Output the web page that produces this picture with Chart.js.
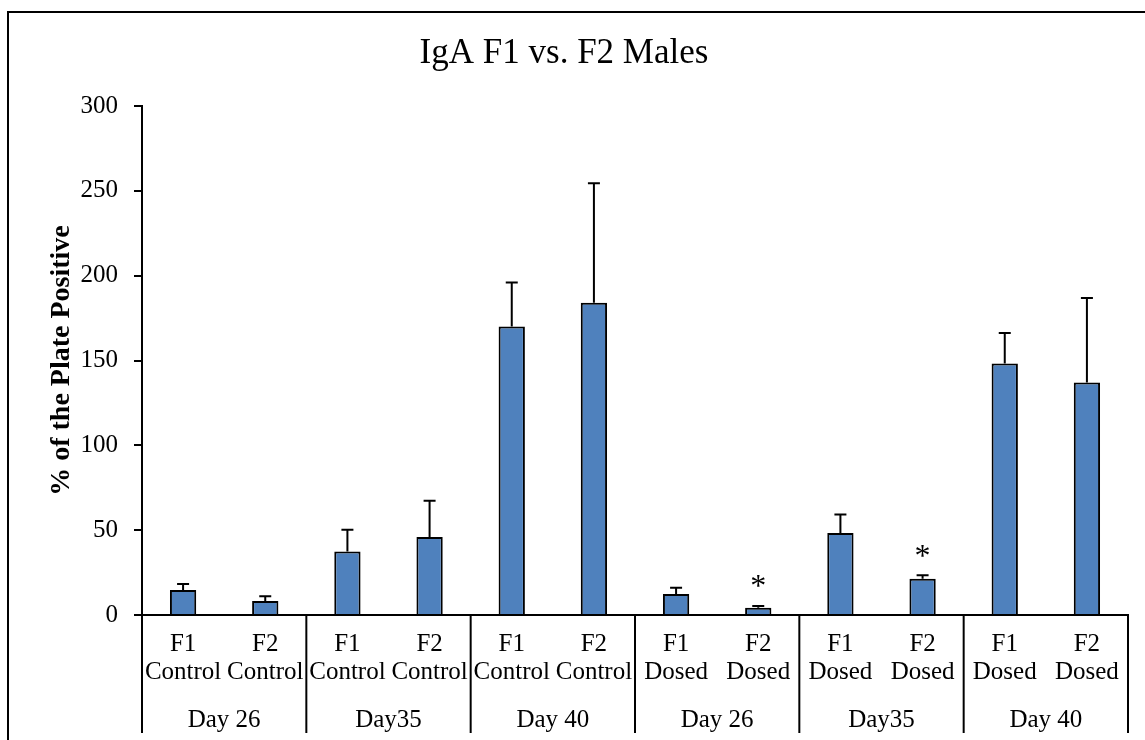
<!DOCTYPE html>
<html>
<head>
<meta charset="utf-8">
<script src="https://cdn.jsdelivr.net/npm/chart.js@4.4.1/dist/chart.umd.min.js"></script>
<style>
  body { margin: 0; background: #fff; }
  canvas { display: block; }
</style>
</head>
<body>
<canvas id="myChart" width="1145" height="740"></canvas>
<script>
const categories = [
  ['F1', 'Control'], ['F2', 'Control'],
  ['F1', 'Control'], ['F2', 'Control'],
  ['F1', 'Control'], ['F2', 'Control'],
  ['F1', 'Dosed'], ['F2', 'Dosed'],
  ['F1', 'Dosed'], ['F2', 'Dosed'],
  ['F1', 'Dosed'], ['F2', 'Dosed'],
];
const groupLabels = ['Day 26', 'Day35', 'Day 40', 'Day 26', 'Day35', 'Day 40'];
const means = [14.8, 8.3, 37.4, 45.9, 170, 184, 12.4, 4.2, 48.4, 21.4, 148.3, 137];
const errors = [3.5, 2.7, 12.8, 21.4, 26, 70.4, 3.6, 1.1, 10.8, 2, 17.9, 49.9];
const significant = [false, false, false, false, false, false, false, true, false, true, false, false];
const yTicks = [0, 50, 100, 150, 200, 250, 300];

const serif = "'Liberation Serif', 'Times New Roman', serif";

// white page + the outer chart frame (runs off the right/bottom edge)
const framePlugin = {
  id: 'frame',
  beforeDraw(chart) {
    const ctx = chart.ctx;
    ctx.save();
    ctx.fillStyle = '#fff';
    ctx.fillRect(0, 0, chart.width, chart.height);
    ctx.strokeStyle = '#000';
    ctx.lineWidth = 2;
    ctx.strokeRect(8, 12, 1300, 900);
    ctx.restore();
  },
};

// error bars and significance stars
const errorBarPlugin = {
  id: 'errorBars',
  afterDatasetsDraw(chart) {
    const ctx = chart.ctx;
    const y = chart.scales.y;
    const meta = chart.getDatasetMeta(0);
    ctx.save();
    ctx.strokeStyle = '#000';
    ctx.lineWidth = 2;
    meta.data.forEach((bar, i) => {
      const yTop = y.getPixelForValue(means[i] + errors[i]);
      const yBase = y.getPixelForValue(means[i]);
      ctx.beginPath();
      ctx.moveTo(bar.x, yBase);
      ctx.lineTo(bar.x, yTop);
      ctx.moveTo(bar.x - 6, yTop);
      ctx.lineTo(bar.x + 6, yTop);
      ctx.stroke();
      if (significant[i]) {
        ctx.fillStyle = '#000';
        ctx.font = '32px ' + serif;
        ctx.textAlign = 'center';
        ctx.textBaseline = 'middle';
        ctx.fillText('*', bar.x, yTop - 18);
      }
    });
    ctx.restore();
  },
};

// group separators under the x axis and the "Day" labels
const groupPlugin = {
  id: 'groups',
  afterDraw(chart) {
    const ctx = chart.ctx;
    const x = chart.scales.x;
    const top = x.top;
    const bottom = 733;
    ctx.save();
    ctx.strokeStyle = '#000';
    ctx.lineWidth = 2;
    const edges = [x.left];
    for (let g = 1; g < groupLabels.length; g++) {
      edges.push((x.getPixelForValue(2 * g - 1) + x.getPixelForValue(2 * g)) / 2);
    }
    edges.push(x.right);
    edges.forEach((px) => {
      ctx.beginPath();
      ctx.moveTo(px, top);
      ctx.lineTo(px, bottom);
      ctx.stroke();
    });
    ctx.fillStyle = '#000';
    ctx.font = '25px ' + serif;
    ctx.textAlign = 'center';
    ctx.textBaseline = 'middle';
    groupLabels.forEach((label, g) => {
      const cx = (x.getPixelForValue(2 * g) + x.getPixelForValue(2 * g + 1)) / 2;
      ctx.fillText(label, cx, top + 105);
    });
    ctx.restore();
  },
};

const data = {
  labels: categories,
  datasets: [
    {
      label: 'IgA',
      data: means,
      backgroundColor: '#4F81BD',
      borderColor: '#000',
      borderWidth: 2,
      barPercentage: 0.32,
      categoryPercentage: 1,
    },
  ],
};

const options = {
  responsive: false,
  animation: false,
  layout: {
    padding: { left: 0, right: 17, top: 0, bottom: 0 },
  },
  scales: {
    x: {
      offset: true,
      grid: { display: false, drawTicks: false },
      border: { display: true, color: '#000', width: 2 },
      ticks: {
        color: '#000',
        font: { family: serif, size: 25, lineHeight: 1.1 },
        padding: 16,
        maxRotation: 0,
        autoSkip: false,
      },
      afterFit(scale) {
        scale.height = 125;
      },
    },
    y: {
      min: 0,
      max: 300,
      afterBuildTicks(scale) {
        scale.ticks = yTicks.map((v) => ({ value: v }));
      },
      grid: {
        drawOnChartArea: false,
        drawTicks: true,
        tickLength: 8,
        color: '#000',
        lineWidth: 2,
      },
      border: { display: true, color: '#000', width: 2 },
      ticks: {
        color: '#000',
        font: { family: serif, size: 25 },
        padding: 16,
      },
      title: {
        display: true,
        text: '% of the Plate Positive',
        color: '#000',
        font: { family: serif, size: 28, weight: 'bold' },
        padding: { top: 45, bottom: 0 },
      },
      afterFit(scale) {
        scale.width = 142;
      },
    },
  },
  plugins: {
    legend: { display: false },
    tooltip: { enabled: false },
    title: {
      display: true,
      text: 'IgA F1 vs. F2 Males',
      color: '#000',
      font: { family: serif, size: 35, weight: 'normal', lineHeight: 1.2 },
      padding: { top: 33, bottom: 31 },
    },
  },
};

new Chart('myChart', {
  type: 'bar',
  data: data,
  options: options,
  plugins: [framePlugin, errorBarPlugin, groupPlugin],
});
</script>
</body>
</html>
